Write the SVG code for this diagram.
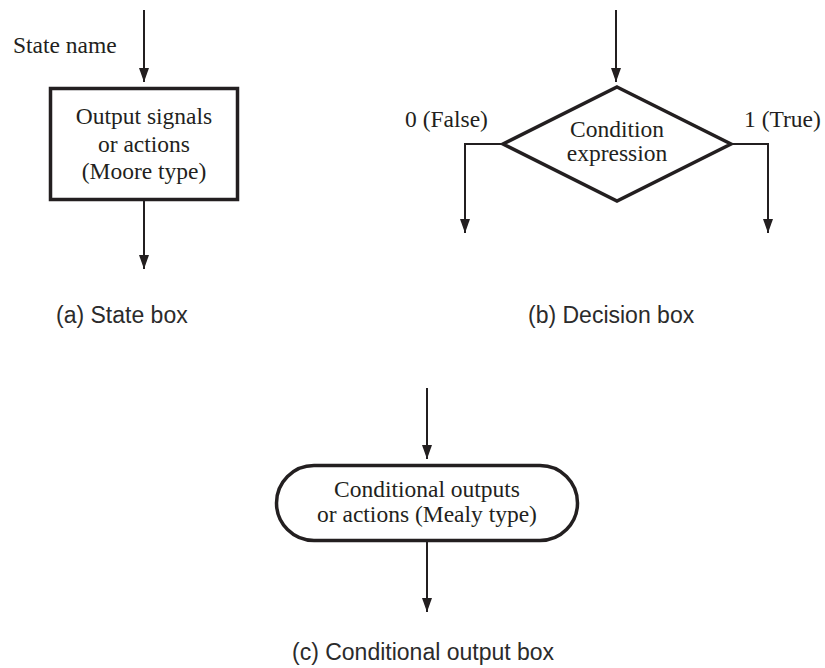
<svg xmlns="http://www.w3.org/2000/svg" width="825" height="668" viewBox="0 0 825 668">
  <defs>
    <marker id="ah" viewBox="0 0 10 14" refX="10" refY="7" markerUnits="userSpaceOnUse" markerWidth="10" markerHeight="14" orient="auto">
      <path d="M0,0 L10,7 L0,14 Z" fill="#231f20"/>
    </marker>
    <marker id="ahv" viewBox="0 0 14 10" refX="14" refY="5" markerUnits="userSpaceOnUse" markerWidth="14" markerHeight="10" orient="auto">
      <path d="M0,0 L14,5 L0,10 Z" fill="#231f20"/>
    </marker>
  </defs>
  <style>
    .shape { fill: #ffffff; stroke: #231f20; stroke-width: 3.5; }
    .conn { fill: none; stroke: #231f20; stroke-width: 2; marker-end: url(#ahv); }
    .serif { font-family: "Liberation Serif", "Times New Roman", serif; font-size: 23.5px; fill: #231f20; }
    .mid { text-anchor: middle; }
    .cap { font-family: "Liberation Sans", Arial, sans-serif; font-size: 23px; fill: #2b2b2b; }
  </style>
  <rect width="825" height="668" fill="#ffffff"/>

  <g id="connectors">
    <path class="conn" d="M144,10 V82"/>
    <path class="conn" d="M144,201 V269"/>
    <path class="conn" d="M616,10 V82"/>
    <path class="conn" d="M503,144 H465 V233"/>
    <path class="conn" d="M731,144 H768 V233"/>
    <path class="conn" d="M427,388 V459"/>
    <path class="conn" d="M427,542 V612"/>
  </g>

  <g id="state-box">
    <text class="serif" x="13" y="53">State name</text>
    <rect class="shape" x="50.5" y="88.5" width="187" height="111"/>
    <text class="serif mid" x="144" y="124">Output signals</text>
    <text class="serif mid" x="144" y="152">or actions</text>
    <text class="serif mid" x="144" y="179">(Moore type)</text>
  </g>

  <g id="decision-box">
    <polygon class="shape" points="617,87 731,144 617,201 503,144"/>
    <text class="serif mid" x="617" y="137">Condition</text>
    <text class="serif mid" x="617" y="161">expression</text>
    <text class="serif" x="405" y="127">0 (False)</text>
    <text class="serif" x="744" y="127">1 (True)</text>
  </g>

  <g id="conditional-box">
    <rect class="shape" x="276.5" y="465.5" width="301" height="75" rx="37.5" ry="37.5"/>
    <text class="serif mid" x="427" y="497">Conditional outputs</text>
    <text class="serif mid" x="427" y="522">or actions (Mealy type)</text>
  </g>

  <g id="captions">
    <text class="cap" x="56" y="323">(a) State box</text>
    <text class="cap" x="528" y="323">(b) Decision box</text>
    <text class="cap" x="292" y="660">(c) Conditional output box</text>
  </g>
</svg>
